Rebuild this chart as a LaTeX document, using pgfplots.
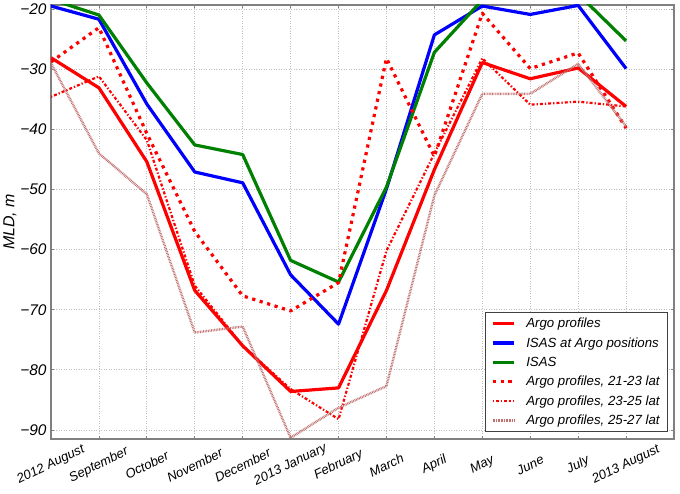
\documentclass[border=0pt]{standalone}
\usepackage{fontspec}
\setmainfont{Liberation Sans}
\usepackage{pgfplots}
\pgfplotsset{compat=1.18}
\definecolor{mred}{rgb}{1,0,0}
\definecolor{mblue}{rgb}{0,0,1}
\definecolor{mgreen}{rgb}{0,0.5,0}
\definecolor{mbrown}{RGB}{192,112,112}
\begin{document}
\begin{tikzpicture}
\begin{axis}[
  scale only axis, width=623bp, height=434bp,
  xmin=0, xmax=13, ymin=-91.5, ymax=-19.33,
  xtick={0,...,12},
  xticklabels={2012 August, September, October, November, December, 2013 January, February, March, April, May, June, July, 2013 August},
  ytick={-90,-80,-70,-60,-50,-40,-30,-20},
  yticklabels={−90,−80,−70,−60,−50,−40,−30,−20},
  xticklabel style={anchor=center, yshift=-26bp, rotate=26, font=\fontsize{13.1}{15}\selectfont\itshape},
  yticklabel style={font=\fontsize{15.5}{17}\selectfont\itshape, xshift=-1bp},
  ylabel={MLD, m},
  ylabel style={font=\fontsize{16}{18}\selectfont\itshape, yshift=-3bp},
  axis line style={draw=gray, line width=1.5bp},
  tick align=inside, major tick length=3bp, tick style={gray, line width=0.8bp},
  grid=major, major grid style={draw=black!25, line width=0.8bp, dash pattern=on 1bp off 1.5bp},
  legend cell align=left,
  legend style={at={(1,0)}, anchor=south east, xshift=-6bp, yshift=7bp,
    draw=black!75, line width=0.8bp, fill=white,
    font=\fontsize{13.3}{15}\selectfont\itshape, row sep=4.4bp,
    inner xsep=6bp, inner ysep=3.5bp,
    /tikz/every odd column/.append style={column sep=9bp}},
  legend image code/.code={\draw[#1] (0bp,0bp) -- (21bp,0bp);},
  every axis plot/.append style={line join=round},
]
\addplot[mred, line width=3.2bp] coordinates {(0,-28.1) (1,-33.1) (2,-45.4) (3,-66.8) (4,-76.0) (5,-83.6) (6,-83.0) (7,-66.8) (8,-46.7) (9,-28.9) (10,-31.6) (11,-29.8) (12,-36.2)};
\addlegendentry{Argo profiles}
\addplot[mblue, line width=3.2bp] coordinates {(0,-19.5) (1,-21.7) (2,-35.8) (3,-47.1) (4,-48.9) (5,-64.2) (6,-72.4) (7,-49.9) (8,-24.3) (9,-19.5) (10,-20.9) (11,-19.4) (12,-29.9)};
\addlegendentry{ISAS at Argo positions}
\addplot[mgreen, line width=3.2bp] coordinates {(0,-18.4) (1,-21.0) (2,-32.3) (3,-42.6) (4,-44.2) (5,-61.8) (6,-65.4) (7,-49.6) (8,-27.2) (9,-18.5) (10,-18.0) (11,-17.5) (12,-25.3)};
\addlegendentry{ISAS}
\addplot[mred, line width=3.2bp, dash pattern=on 3.2bp off 4.6bp] coordinates {(0,-28.8) (1,-23.1) (2,-40.7) (3,-57.0) (4,-67.7) (5,-70.2) (6,-65.5) (7,-28.2) (8,-44.5) (9,-20.7) (10,-29.9) (11,-27.3) (12,-39.8)};
\addlegendentry{Argo profiles, 21-23 lat}
\addplot[mred, line width=2.2bp, dash pattern=on 1.3bp off 2bp on 3bp off 2bp] coordinates {(0,-34.6) (1,-31.2) (2,-41.8) (3,-66.0) (4,-76.0) (5,-83.2) (6,-88.2) (7,-60.2) (8,-44.0) (9,-28.2) (10,-35.9) (11,-35.4) (12,-36.2)};
\addlegendentry{Argo profiles, 23-25 lat}
\addplot[mbrown, line width=2.4bp, dash pattern=on 0.8bp off 0.8bp] coordinates {(0,-29.0) (1,-44.0) (2,-50.8) (3,-73.8) (4,-72.8) (5,-91.3) (6,-86.3) (7,-82.7) (8,-51.0) (9,-34.1) (10,-34.1) (11,-29.1) (12,-39.5)};
\addlegendentry{Argo profiles, 25-27 lat}
\end{axis}
\path (current axis.south west) ++(-51bp,-55bp) coordinate (bbA);
\path (current axis.north east) ++(6bp,5bp) coordinate (bbB);
\path (bbA) rectangle (bbB);
\end{tikzpicture}
\end{document}
